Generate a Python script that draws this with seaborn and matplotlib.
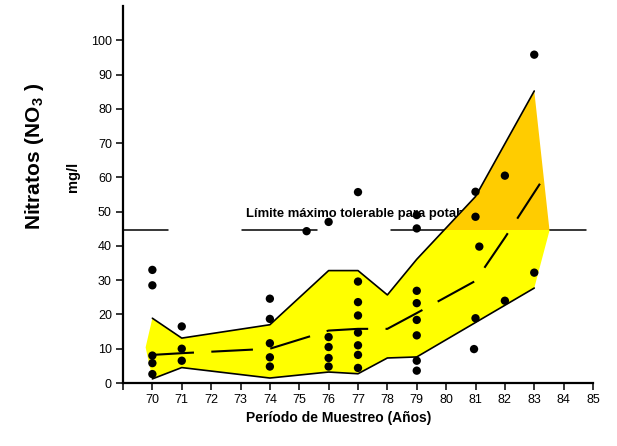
import matplotlib
matplotlib.use("Agg")
import matplotlib.pyplot as plt
from matplotlib.patches import Polygon, Rectangle
import numpy as np
import seaborn as sns

sns.set_style("ticks")
plt.rcParams["font.family"] = ["Liberation Sans", "DejaVu Sans"]
plt.rcParams["mathtext.fontset"] = "custom"
plt.rcParams["mathtext.bf"] = "Liberation Sans:bold"
plt.rcParams["mathtext.rm"] = "Liberation Sans"
plt.rcParams["lines.scale_dashes"] = False
plt.rcParams["text.color"] = "black"
plt.rcParams["axes.labelcolor"] = "black"
plt.rcParams["xtick.color"] = "black"
plt.rcParams["ytick.color"] = "black"

# Individual nitrate samples (year, mg/l)
sample_years = ([70] * 5 + [71] * 3 + [74] * 5 + [75.25] + [76] * 5 + [77] * 8
                + [79] * 8 + [81, 81, 81.13, 81, 80.95] + [82] * 2 + [83] * 2)
sample_values = ([33.0, 28.5, 8.0, 5.8, 2.6]
                 + [16.5, 10.0, 6.5]
                 + [24.6, 18.7, 11.6, 7.5, 4.8]
                 + [44.3]
                 + [47.0, 13.4, 10.5, 7.3, 4.8]
                 + [55.7, 29.6, 23.6, 19.7, 14.7, 11.0, 8.2, 4.4]
                 + [49.0, 45.1, 26.9, 23.3, 18.4, 13.9, 6.5, 3.6]
                 + [55.8, 48.5, 39.8, 18.9, 9.9]
                 + [60.5, 24.0]
                 + [95.8, 32.2])

# Envelope of the samples
upper_years = [70, 71, 74, 76, 77, 78, 79, 81, 83]
upper_values = [18.9, 13.1, 17.0, 32.8, 32.8, 25.7, 36.1, 54.4, 85.2]
lower_years = [70, 71, 74, 76, 77, 78, 79, 83]
lower_values = [1.2, 4.5, 1.45, 3.2, 2.7, 7.3, 7.6, 27.7]
tip_left = (69.77, 10.4)
tip_right = (83.52, 44.5)

# Central trend
trend_years = [70, 71, 74, 76, 77, 78, 79, 81, 82, 83.35]
trend_values = [8.2, 8.7, 10.0, 15.3, 15.8, 15.8, 20.4, 29.8, 42.4, 60.2]

# Maximum tolerable limit for drinking water
limit_value = 44.5
limit_segments = [(69.0, 70.53), (73.05, 75.6), (78.14, 84.75)]
limit_label = "Límite máximo tolerable para potable"

x_ticks = list(range(69, 86))
x_tick_labels = [""] + [str(v) for v in range(70, 86)]
y_ticks = list(range(0, 101, 10))

fig = plt.figure(figsize=(6.17, 4.46), dpi=100)
ax = fig.add_axes([123 / 617, 1 - 383 / 446, 470 / 617, 377 / 446])

# Limit line (under the envelope)
for a, b in limit_segments:
    sns.lineplot(x=[a, b], y=[limit_value, limit_value], color="black",
                 lw=1.1, ax=ax, zorder=1, estimator=None, sort=False)
ax.text(73.18, 48.4, limit_label, fontsize=9.4, fontweight="bold",
        ha="left", va="baseline", zorder=1.5)

# Envelope fill: yellow below the limit, orange above
poly = ([tip_left] + list(zip(upper_years, upper_values)) + [tip_right]
        + list(zip(lower_years[::-1], lower_values[::-1])))
for color, y0, y1 in [("#FFFF00", -10, limit_value), ("#FFCC00", limit_value, 200)]:
    patch = Polygon(np.array(poly), closed=True, facecolor=color,
                    edgecolor="none", zorder=2)
    ax.add_patch(patch)
    clip = Rectangle((60, y0), 40, y1 - y0, transform=ax.transData)
    patch.set_clip_path(clip)

# Envelope outlines
sns.lineplot(x=upper_years, y=upper_values, color="black", lw=1.2, ax=ax,
             zorder=3, estimator=None, sort=False)
sns.lineplot(x=lower_years, y=lower_values, color="black", lw=1.2, ax=ax,
             zorder=3, estimator=None, sort=False)

# Trend line (long dashes)
sns.lineplot(x=trend_years, y=trend_values, color="black", lw=1.5, ax=ax,
             zorder=3, estimator=None, sort=False,
             linestyle=(0, (30, 12.5)))

# Samples
sns.scatterplot(x=sample_years, y=sample_values, color="black", s=36,
                edgecolor="none", ax=ax, zorder=4)

ax.set_xlim(69, 85)
ax.set_ylim(0, 110)
ax.set_xticks(x_ticks)
ax.set_xticklabels(x_tick_labels)
ax.set_yticks(y_ticks)
ax.set_xlabel("")
ax.set_ylabel("")
sns.despine(ax=ax)
for side in ("left", "bottom"):
    ax.spines[side].set_linewidth(1.6)
    ax.spines[side].set_color("black")
ax.tick_params(direction="out", length=5, width=1.1, labelsize=9, pad=3,
               colors="black")

fig.text(338.5 / 617, 1 - 418 / 446, "Período de Muestreo (Años)",
         fontsize=10, fontweight="bold", ha="center", va="center")
fig.text(35 / 617, 1 - 156 / 446, r"$\mathbf{Nitratos\ (NO_{3}\ )}$",
         fontsize=15, rotation=90, ha="center", va="center")
fig.text(73 / 617, 1 - 177 / 446, "mg/l", fontsize=10.5, fontweight="bold",
         rotation=90, ha="center", va="center")

fig.savefig("out.png", dpi=100)
